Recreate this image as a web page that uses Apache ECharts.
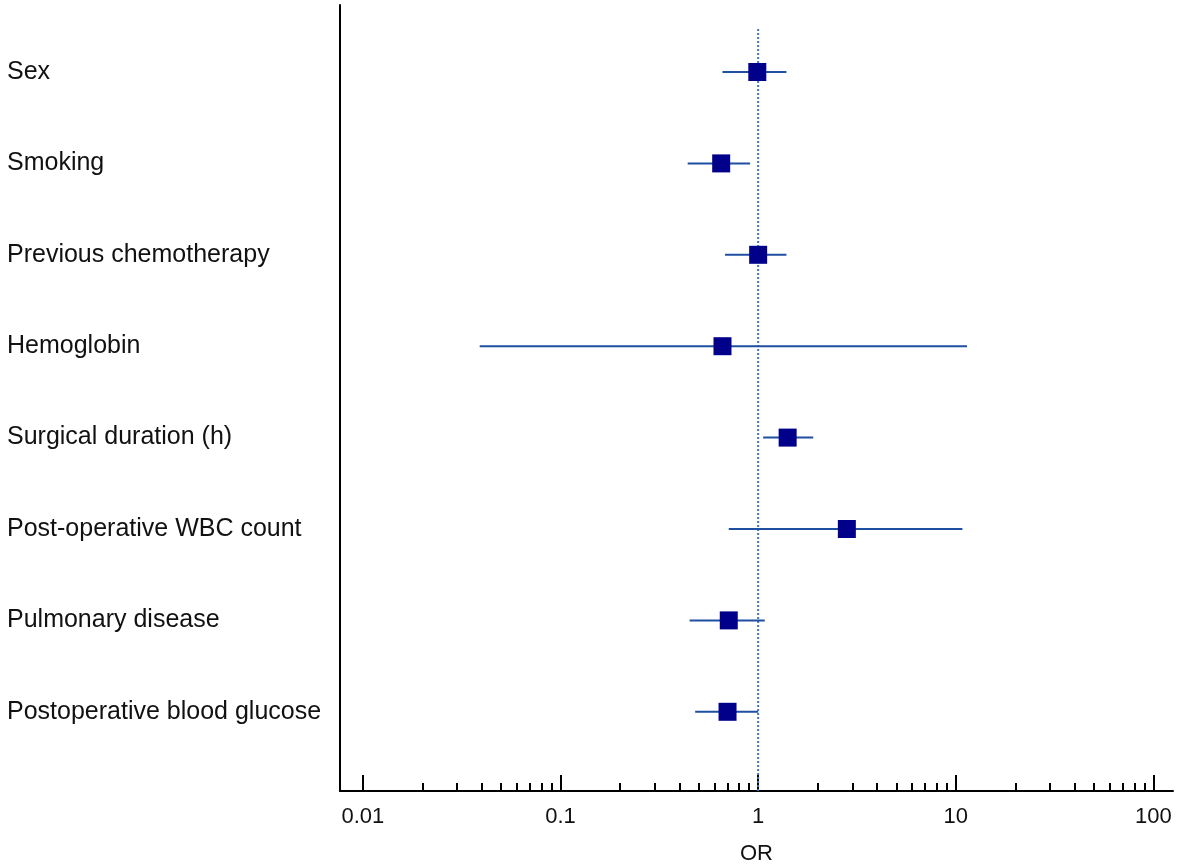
<!DOCTYPE html>
<html>
<head>
<meta charset="utf-8">
<title>Forest plot</title>
<script src="https://cdn.jsdelivr.net/npm/echarts@6/dist/echarts.min.js"></script>
<style>
  html, body { margin: 0; padding: 0; background: #fff; }
  #chart { width: 1181px; height: 868px; }
</style>
</head>
<body>
<div id="chart"></div>
<script>
  // rows, top to bottom
  var categories = ['Sex', 'Smoking', 'Previous chemotherapy', 'Hemoglobin',
                    'Surgical duration (h)', 'Post-operative WBC count',
                    'Pulmonary disease', 'Postoperative blood glucose'];
  var orValues = [0.99, 0.65, 1.00, 0.66, 1.41, 2.81, 0.71, 0.70];
  var ciLow    = [0.66, 0.44, 0.68, 0.039, 1.06, 0.71, 0.45, 0.48];
  var ciHigh   = [1.39, 0.91, 1.39, 11.4, 1.90, 10.8, 1.08, 1.00];

  // x axis ticks
  var majorTicks = [0.01, 0.1, 1, 10, 100];
  var tickLabels = ['0.01', '0.1', '1', '10', '100'];
  var minorSteps = [2, 3, 4, 5, 6, 7, 8, 9];
  var refValue = 1;

  var xMin = 0.00766, xMax = 125.6;
  var font = 'Liberation Sans, Arial, sans-serif';

  var minorTicks = [];
  for (var k = 0; k < majorTicks.length - 1; k++) {
    minorSteps.forEach(function (s) { minorTicks.push(majorTicks[k] * s); });
  }

  var ciData = [], pointData = [];
  for (var i = 0; i < categories.length; i++) {
    ciData.push([ciLow[i], ciHigh[i], i]);
    pointData.push([orValues[i], i]);
  }

  var chart = echarts.init(document.getElementById('chart'));
  var option = {
    animation: false,
    backgroundColor: '#fff',
    grid: [
      // frame with axes
      { left: 340, right: 8, top: 5, bottom: 77, outerBoundsMode: 'none', containLabel: false },
      // rows
      { left: 340, right: 8, top: 26.3, height: 731.2, outerBoundsMode: 'none', containLabel: false }
    ],
    xAxis: [
      {
        gridIndex: 0, type: 'log', min: xMin, max: xMax, position: 'bottom',
        name: 'OR', nameLocation: 'middle', nameGap: 52,
        nameTextStyle: { fontSize: 22, color: '#111', fontFamily: font },
        axisLine: { show: true, lineStyle: { color: '#000', width: 2 } },
        axisTick: { show: true, inside: true, length: 16, customValues: majorTicks,
                    lineStyle: { color: '#000', width: 2 } },
        axisLabel: {
          customValues: majorTicks, margin: 15, fontSize: 22, color: '#111', fontFamily: font,
          formatter: function (v) {
            for (var j = 0; j < majorTicks.length; j++) {
              if (Math.abs(Math.log10(v) - Math.log10(majorTicks[j])) < 1e-6) return tickLabels[j];
            }
            return '';
          }
        },
        splitLine: { show: false }
      },
      {
        gridIndex: 0, type: 'log', min: xMin, max: xMax, position: 'bottom', offset: 0,
        axisLine: { show: false },
        axisTick: { show: true, inside: true, length: 8, customValues: minorTicks,
                    lineStyle: { color: '#000', width: 2 } },
        axisLabel: { show: false },
        splitLine: { show: false }
      },
      {
        gridIndex: 1, type: 'log', min: xMin, max: xMax, show: false
      }
    ],
    yAxis: [
      {
        gridIndex: 0, type: 'value', min: 0, max: 1,
        axisLine: { show: true, lineStyle: { color: '#000', width: 2 } },
        axisTick: { show: false }, axisLabel: { show: false }, splitLine: { show: false }
      },
      {
        gridIndex: 1, type: 'category', data: categories, inverse: true,
        axisLine: { show: false }, axisTick: { show: false }, splitLine: { show: false },
        axisLabel: { align: 'left', margin: 333, fontSize: 25, color: '#111', fontFamily: font }
      }
    ],
    series: [
      {
        // reference line at OR = 1
        type: 'line', xAxisIndex: 0, yAxisIndex: 0, symbol: 'none', silent: true,
        data: [[refValue, 0], [refValue, 0.97]],
        lineStyle: { color: '#3f74bd', width: 2, type: 'dotted' }, z: 1
      },
      {
        type: 'custom', xAxisIndex: 2, yAxisIndex: 1,
        encode: { x: [0, 1], y: 2 },
        renderItem: function (params, api) {
          var lo = api.coord([api.value(0), api.value(2)]);
          var hi = api.coord([api.value(1), api.value(2)]);
          return {
            type: 'line',
            shape: { x1: lo[0], y1: lo[1], x2: hi[0], y2: hi[1] },
            style: { stroke: '#1f4fa0', lineWidth: 2 }
          };
        },
        data: ciData, z: 2
      },
      {
        type: 'scatter', xAxisIndex: 2, yAxisIndex: 1,
        symbol: 'rect', symbolSize: 18,
        itemStyle: { color: '#00008b', opacity: 1 },
        data: pointData, z: 3
      }
    ]
  };
  chart.setOption(option);
</script>
</body>
</html>
